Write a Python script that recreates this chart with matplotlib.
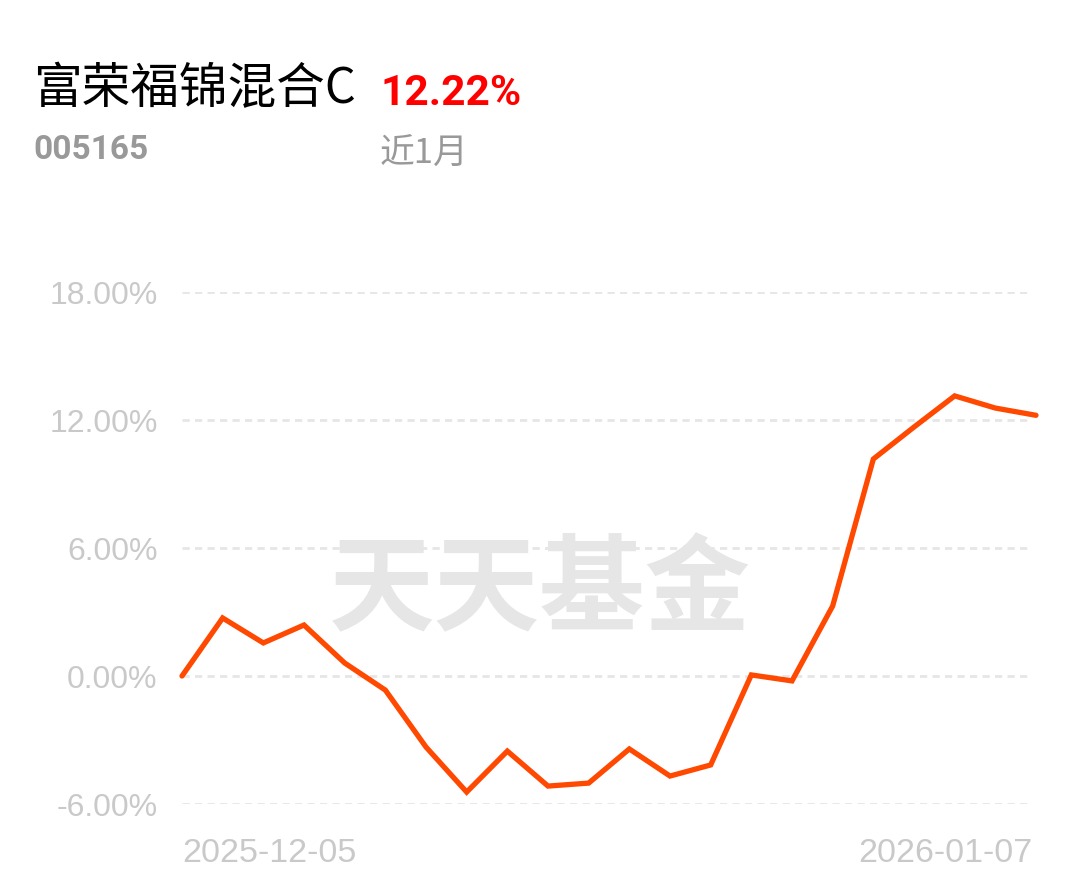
import matplotlib
matplotlib.use("Agg")
import matplotlib.pyplot as plt

# 近1月 收益率走势 (%)
dates = ["2025-12-05", "2026-01-07"]
returns = [0.00, 2.72, 1.55, 2.39, 0.61, -0.66, -3.33, -5.44, -3.52, -5.16, -5.02,
           -3.42, -4.69, -4.17, 0.05, -0.23, 3.28, 10.17, 11.67, 13.13, 12.56, 12.22]
yticks = [-6, 0, 6, 12, 18]
fund_name = "富荣福锦混合C"
fund_code = "005165"
period_ret = "12.22%"
period = "近1月"

W, H = 1080, 881
fig = plt.figure(figsize=(W / 100, H / 100), dpi=100)
fig.patch.set_facecolor("white")

# plot box in pixels: x 182..1036, y 292..804
ax = fig.add_axes([182 / W, 1 - 804 / H, 854 / W, 512 / H])
ax.set_xlim(0, len(returns) - 1)
ax.set_ylim(-6, 18)
for s in ax.spines.values():
    s.set_visible(False)
ax.set_xticks([])
ax.set_yticks([])

for t in yticks:
    ax.axhline(t, xmin=0, xmax=0.995, color="#e6e6e6", lw=2,
               dashes=(2.6, 1.9), zorder=1)
    ax.text(-0.6, t, f"{t:.2f}%", ha="right", va="center_baseline", fontsize=23,
            color="#c9c9c9", family="Liberation Sans")

ax.plot(range(len(returns)), returns, color="#ff4800", lw=3.8,
        solid_joinstyle="miter", solid_capstyle="round", clip_on=False, zorder=3)

# watermark
fig.text(540 / W, 1 - 592 / H, "天天基金", ha="center", va="center",
         fontsize=76, color="#e6e6e6", family="Noto Sans CJK SC",
         fontweight="bold", zorder=0)

# date labels
fig.text(182 / W, 1 - 862 / H, dates[0], ha="left", va="baseline",
         fontsize=24.5, color="#c9c9c9", family="Liberation Sans")
fig.text(1032 / W, 1 - 862 / H, dates[1], ha="right", va="baseline",
         fontsize=24.5, color="#c9c9c9", family="Liberation Sans")

# header
fig.text(33 / W, 1 - 103 / H, fund_name, ha="left", va="baseline",
         fontsize=35, color="black", family=["Noto Sans CJK SC", "DejaVu Sans"])
fig.text(380 / W, 1 - 105 / H, period_ret, ha="left", va="baseline",
         fontsize=30.5, color="#ff0000", family="Roboto", fontweight="bold")
fig.text(33 / W, 1 - 159 / H, fund_code, ha="left", va="baseline",
         fontsize=24, color="#999999", family="Roboto", fontweight="bold")
fig.text(380 / W, 1 - 164 / H, period, ha="left", va="baseline",
         fontsize=25, color="#999999", family=["Noto Sans CJK SC", "DejaVu Sans"])

fig.savefig("out.png", dpi=100, facecolor="white")
